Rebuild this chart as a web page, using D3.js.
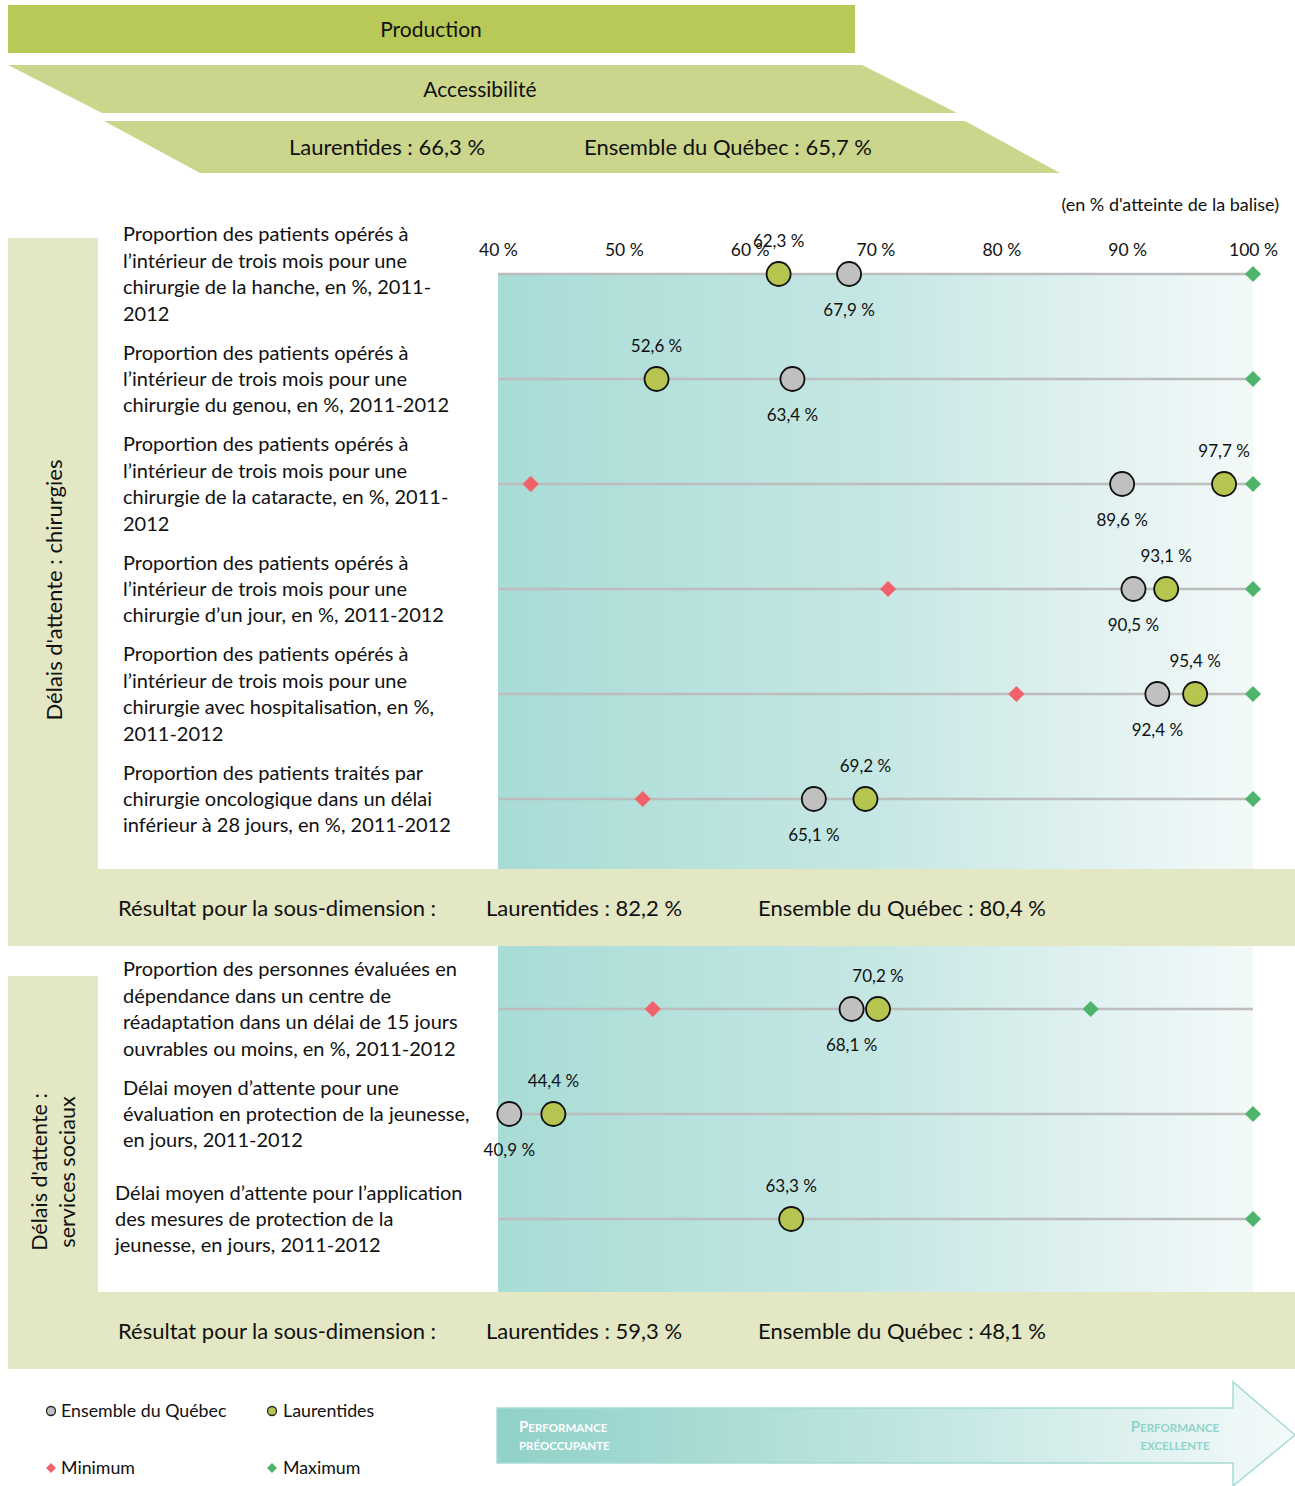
<!DOCTYPE html>
<html><head><meta charset="utf-8">
<script src="https://cdn.jsdelivr.net/npm/d3@7"></script>
<style>
body{margin:0;background:#fff;}
text{font-family:Lato,"Open Sans",sans-serif;fill:#111;}
</style></head>
<body><svg id="c" width="1295" height="1486"></svg>
<script>
// ---------- DATA ----------
const indicatorLabels = [
  ["Proportion des patients opérés à","l’intérieur de trois mois pour une","chirurgie de la hanche, en %, 2011-","2012"],
  ["Proportion des patients opérés à","l’intérieur de trois mois pour une","chirurgie du genou, en %, 2011-2012"],
  ["Proportion des patients opérés à","l’intérieur de trois mois pour une","chirurgie de la cataracte, en %, 2011-","2012"],
  ["Proportion des patients opérés à","l’intérieur de trois mois pour une","chirurgie d’un jour, en %, 2011-2012"],
  ["Proportion des patients opérés à","l’intérieur de trois mois pour une","chirurgie avec hospitalisation, en %,","2011-2012"],
  ["Proportion des patients traités par","chirurgie oncologique dans un délai","inférieur à 28 jours, en %, 2011-2012"],
  ["Proportion des personnes évaluées en","dépendance dans un centre de","réadaptation dans un délai de 15 jours","ouvrables ou moins, en %, 2011-2012"],
  ["Délai moyen d’attente pour une","évaluation en protection de la jeunesse,","en jours, 2011-2012"],
  ["Délai moyen d’attente pour l’application","des mesures de protection de la","jeunesse, en jours, 2011-2012"]
];
const rowSlot     = [0,1,2,3,4,5,7,8,9];
const laurentides = [62.3,52.6,97.7,93.1,95.4,69.2,70.2,44.4,63.3];
const quebec      = [67.9,63.4,89.6,90.5,92.4,65.1,68.1,40.9,null];
const minimum     = [null,null,42.6,71.0,81.2,51.5,52.3,null,null];
const maximum     = [100,100,100,100,100,100,87.1,100,100];
const axisTicks   = [40,50,60,70,80,90,100];
const sectionNames = [["Délais d'attente : chirurgies"],["Délais d'attente :","services sociaux"]];
const sectionLaur = ["82,2 %","59,3 %"];
const sectionQueb = ["80,4 %","48,1 %"];
const headerTitle = "Production";
const headerSub = "Accessibilité";
const headerLaur = "66,3 %";
const headerQueb = "65,7 %";

// ---------- DRAW ----------
const svg = d3.select("#c");
const defs = svg.append("defs");
const fmt = v => d3.format(".1f")(v).replace(".", ",") + " %";

const x = d3.scaleLinear().domain([40,100]).range([498,1253]);
const y = d3.scaleLinear().domain([0,10]).range([274,1324]);

const g1 = defs.append("linearGradient").attr("id","bg").attr("x1","0").attr("x2","1").attr("y1","0").attr("y2","0");
g1.append("stop").attr("offset","0").attr("stop-color","#a8dcd6");
g1.append("stop").attr("offset","0.5").attr("stop-color","#c6e7e4");
g1.append("stop").attr("offset","1").attr("stop-color","#f3f9f9");
const g2 = defs.append("linearGradient").attr("id","arr").attr("x1","0").attr("x2","1").attr("y1","0").attr("y2","0");
g2.append("stop").attr("offset","0").attr("stop-color","#90d1c8");
g2.append("stop").attr("offset","0.55").attr("stop-color","#c4e7e3");
g2.append("stop").attr("offset","1").attr("stop-color","#f4fafa");

// header
svg.append("rect").attr("x",8).attr("y",5).attr("width",847).attr("height",48).attr("fill","#b8c957");
svg.append("text").attr("x",431).attr("y",37).attr("text-anchor","middle").attr("font-size",21).text(headerTitle);
svg.append("polygon").attr("points","8,65 862,65 957,113 102,113").attr("fill","#cbd68c");
svg.append("text").attr("x",480).attr("y",97).attr("text-anchor","middle").attr("font-size",21).text(headerSub);
svg.append("polygon").attr("points","104,121 965,121 1060,173 200,173").attr("fill","#cbd68c");
svg.append("text").attr("x",387).attr("y",155).attr("text-anchor","middle").attr("font-size",22).text("Laurentides : "+headerLaur);
svg.append("text").attr("x",728).attr("y",155).attr("text-anchor","middle").attr("font-size",22).text("Ensemble du Québec : "+headerQueb);

svg.append("text").attr("x",1279).attr("y",211).attr("text-anchor","end").attr("font-size",18).text("(en % d'atteinte de la balise)");

// background gradients
svg.append("rect").attr("x",x(40)).attr("y",y(0)).attr("width",x(100)-x(40)).attr("height",869-y(0)).attr("fill","url(#bg)");
svg.append("rect").attr("x",x(40)).attr("y",946).attr("width",x(100)-x(40)).attr("height",1292-946).attr("fill","url(#bg)");

// sidebars and bands
const side = "#e3e7c3";
svg.append("rect").attr("x",8).attr("y",238).attr("width",90).attr("height",631).attr("fill",side);
svg.append("rect").attr("x",8).attr("y",976).attr("width",90).attr("height",316).attr("fill",side);
[869,1292].forEach((by,i)=>{
  svg.append("rect").attr("x",8).attr("y",by).attr("width",1287).attr("height",77).attr("fill",side);
  const ty = by+47;
  svg.append("text").attr("x",118).attr("y",ty).attr("font-size",22).text("Résultat pour la sous-dimension :");
  svg.append("text").attr("x",486).attr("y",ty).attr("font-size",22).text("Laurentides : "+sectionLaur[i]);
  svg.append("text").attr("x",758).attr("y",ty).attr("font-size",22).text("Ensemble du Québec : "+sectionQueb[i]);
});
// section names (rotated)
[[55,590,22],[54,1172,21.5]].forEach((p,i)=>{
  const t = svg.append("text").attr("transform",`translate(${p[0]},${p[1]}) rotate(-90)`).attr("text-anchor","middle").attr("font-size",p[2]);
  const lines = sectionNames[i];
  lines.forEach((l,j)=>t.append("tspan").attr("x",0).attr("y",(j-(lines.length-1)/2)*28+7).text(l));
});
// axis
const ax = svg.append("g").attr("transform","translate(0,256)").call(d3.axisTop(x).tickValues(axisTicks).tickFormat(d=>d+" %").tickSize(0).tickPadding(0));
ax.select(".domain").remove();
ax.selectAll("text").attr("font-size",17.5).attr("font-family","Lato, sans-serif").attr("fill","#111");

// rows
const rows = laurentides.map((v,i)=>({i,laur:v,queb:quebec[i],min:minimum[i],max:maximum[i],yy:y(rowSlot[i]),lab:indicatorLabels[i]}));
const rg = svg.selectAll("g.row").data(rows).join("g").attr("class","row");
rg.append("line").attr("x1",x(40)).attr("x2",x(100)).attr("y1",d=>d.yy).attr("y2",d=>d.yy).attr("stroke","#bdbdbd").attr("stroke-width",2.5);
rg.each(function(d){
  const g = d3.select(this);
  const lt = g.append("text").attr("font-size",20);
  const n = d.lab.length;
  const lx = d.i===8 ? 115 : 123;
  d.lab.forEach((l,j)=>lt.append("tspan").attr("x",lx).attr("y",d.yy+(j-(n-1)/2)*26.4+7).text(l));
  const diamond = (v,col)=>g.append("rect").attr("x",-5.7).attr("y",-5.7).attr("width",11.4).attr("height",11.4)
      .attr("transform",`translate(${x(v)},${d.yy}) rotate(45)`).attr("fill",col);
  if(d.min!=null) diamond(d.min,"#f2606a");
  if(d.max!=null) diamond(d.max,"#4db56a");
  if(d.queb!=null){
    g.append("circle").attr("cx",x(d.queb)).attr("cy",d.yy).attr("r",12).attr("fill","#c0c0c0").attr("stroke","#111").attr("stroke-width",1.8);
    g.append("text").attr("x",x(d.queb)).attr("y",d.yy+42).attr("text-anchor","middle").attr("font-size",17).text(fmt(d.queb));
  }
  g.append("circle").attr("cx",x(d.laur)).attr("cy",d.yy).attr("r",12).attr("fill","#b5c54f").attr("stroke","#111").attr("stroke-width",1.8);
  g.append("text").attr("x",x(d.laur)).attr("y",d.yy-27).attr("text-anchor","middle").attr("font-size",17).text(fmt(d.laur));
});

// legend
const lg = svg.append("g");
lg.append("circle").attr("cx",51).attr("cy",1411).attr("r",4.5).attr("fill","#c0c0c0").attr("stroke","#222").attr("stroke-width",1.3);
lg.append("text").attr("x",61).attr("y",1417).attr("font-size",17.8).text("Ensemble du Québec");
lg.append("circle").attr("cx",272).attr("cy",1411).attr("r",4.5).attr("fill","#b5c54f").attr("stroke","#222").attr("stroke-width",1.3);
lg.append("text").attr("x",283).attr("y",1417).attr("font-size",17.8).text("Laurentides");
lg.append("rect").attr("x",-3.5).attr("y",-3.5).attr("width",7).attr("height",7).attr("transform","translate(51,1468) rotate(45)").attr("fill","#f2606a");
lg.append("text").attr("x",61).attr("y",1474).attr("font-size",17.8).text("Minimum");
lg.append("rect").attr("x",-3.5).attr("y",-3.5).attr("width",7).attr("height",7).attr("transform","translate(272,1468) rotate(45)").attr("fill","#4db56a");
lg.append("text").attr("x",283).attr("y",1474).attr("font-size",17.8).text("Maximum");

// performance arrow
svg.append("polygon").attr("points","497,1408 1233,1408 1233,1382 1295,1435 1233,1486 1233,1463 497,1463")
  .attr("fill","url(#arr)").attr("stroke","#a6dbd4").attr("stroke-width",1.5);
function smallCaps(xp,yp,word,anchor,col){
  const t = svg.append("text").attr("x",xp).attr("y",yp).attr("text-anchor",anchor).style("fill",col).attr("font-weight","bold");
  t.append("tspan").attr("font-size",15).text(word[0]);
  t.append("tspan").attr("font-size",11.5).text(word.slice(1));
}
smallCaps(519,1432,"PERFORMANCE","start","#ffffff");
svg.append("text").attr("x",519).attr("y",1450).attr("font-size",11.5).attr("font-weight","bold").style("fill","#ffffff").text("PRÉOCCUPANTE");
smallCaps(1175,1432,"PERFORMANCE","middle","#8fd3ca");
svg.append("text").attr("x",1175).attr("y",1450).attr("text-anchor","middle").attr("font-size",11.5).attr("font-weight","bold").style("fill","#8fd3ca").text("EXCELLENTE");
</script></body></html>
